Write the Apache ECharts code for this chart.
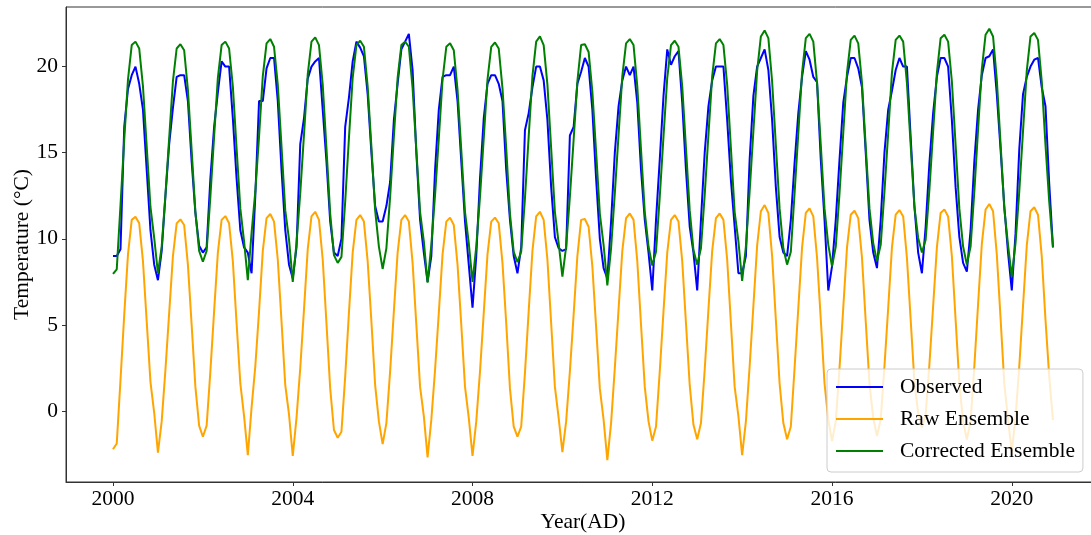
<!DOCTYPE html>
<html>
<head>
<meta charset="utf-8">
<script src="https://cdn.jsdelivr.net/npm/echarts@6/dist/echarts.min.js"></script>
<style>
html,body{margin:0;padding:0;background:#fff;}
#chart{width:1091px;height:535px;}
</style>
</head>
<body>
<div id="chart"></div>
<script>
// Monthly series, Jan 2000 .. Dec 2020 (one row per year)
const startYear = 2000;
const xTicks = [2000, 2004, 2008, 2012, 2016, 2020];
const yTicks = [0, 5, 10, 15, 20];

const observed = [
  9.0, 9.0, 9.4, 16.5, 18.7, 19.5, 20.0, 19.0, 17.5, 14.0, 10.5, 8.5,
  7.6, 9.3, 12.5, 15.5, 17.6, 19.4, 19.5, 19.5, 18.0, 14.5, 11.5, 9.6,
  9.2, 9.5, 13.5, 16.5, 18.5, 20.3, 20.0, 20.0, 17.0, 13.5, 10.5, 9.5,
  9.2, 8.0, 12.5, 18.0, 18.0, 19.9, 20.5, 20.5, 18.0, 14.0, 10.5, 8.5,
  7.7, 9.5, 15.5, 17.0, 19.3, 20.0, 20.3, 20.5, 17.5, 14.5, 11.0, 9.2,
  9.0, 10.0, 16.5, 18.2, 20.3, 21.45, 21.1, 20.6, 18.4, 15.0, 11.9, 11.0,
  11.0, 11.9, 13.3, 16.9, 19.0, 21.0, 21.45, 21.9, 19.8, 15.0, 11.1, 9.2,
  7.5, 9.0, 14.0, 17.5, 19.4, 19.5, 19.5, 20.0, 18.0, 14.5, 11.0, 8.5,
  6.0, 9.0, 13.5, 17.0, 19.0, 19.5, 19.5, 19.0, 18.0, 14.0, 11.1, 9.0,
  8.0, 9.5, 16.3, 17.3, 18.8, 20.0, 20.0, 19.2, 16.9, 13.0, 10.1, 9.45,
  9.3, 9.4, 16.0, 16.5, 19.0, 19.7, 20.5, 20.0, 17.5, 13.5, 10.0, 8.3,
  7.7, 11.0, 15.0, 17.7, 19.2, 20.0, 19.5, 20.0, 17.9, 14.0, 11.1, 9.2,
  7.0, 11.1, 14.6, 18.3, 21.0, 20.1, 20.6, 20.9, 17.9, 14.0, 10.7, 9.2,
  7.0, 11.1, 15.0, 17.7, 19.2, 20.0, 20.0, 20.0, 16.9, 13.4, 10.7, 8.0,
  8.0, 9.0, 14.6, 18.3, 20.0, 20.5, 21.0, 19.8, 16.9, 13.0, 10.1, 9.2,
  9.0, 11.1, 14.4, 17.3, 19.4, 20.9, 20.4, 19.4, 19.1, 14.6, 11.1, 7.0,
  8.4, 11.1, 14.6, 17.9, 19.4, 20.5, 20.5, 19.9, 18.8, 15.0, 11.1, 9.2,
  8.3, 11.1, 15.0, 17.5, 18.6, 19.8, 20.5, 20.0, 20.0, 15.9, 11.9, 9.2,
  8.0, 10.7, 14.4, 17.3, 19.4, 20.5, 20.5, 20.0, 16.9, 13.0, 10.1, 8.6,
  8.1, 10.5, 14.5, 17.5, 19.5, 20.5, 20.6, 21.0, 18.4, 15.2, 11.9, 9.2,
  7.0, 10.3, 15.2, 18.4, 19.4, 20.0, 20.4, 20.5, 18.8, 17.7, 13.2, 9.5
];

const rawEnsemble = [
  -2.22, -1.88, 1.8, 5.6, 9.1, 11.1, 11.28, 10.9, 8.7, 5.2, 1.7, -0.1,
  -2.42, -0.6, 2.4, 5.7, 9.0, 10.9, 11.13, 10.8, 8.5, 5.0, 1.4, -0.85,
  -1.49, -0.85, 2.3, 5.8, 9.2, 11.1, 11.32, 10.9, 8.7, 5.1, 1.6, -0.3,
  -2.56, 0.2, 2.6, 5.8, 9.3, 11.2, 11.44, 11.0, 8.8, 5.2, 1.5, -0.2,
  -2.61, -0.4, 2.5, 5.9, 9.4, 11.3, 11.57, 11.1, 8.8, 5.1, 1.3, -1.1,
  -1.55, -1.2, 2.0, 5.7, 9.2, 11.1, 11.38, 11.0, 8.7, 5.2, 1.5, -0.6,
  -1.92, -0.7, 2.3, 5.8, 9.2, 11.1, 11.38, 11.0, 8.6, 5.0, 1.4, -0.3,
  -2.69, -0.5, 2.4, 5.7, 9.1, 11.0, 11.23, 10.8, 8.5, 5.0, 1.4, -0.4,
  -2.61, -0.6, 2.3, 5.7, 9.1, 11.0, 11.23, 10.9, 8.6, 5.1, 1.3, -0.9,
  -1.49, -0.9, 2.2, 5.8, 9.3, 11.3, 11.57, 11.1, 8.8, 5.1, 1.4, -0.4,
  -2.38, -0.6, 2.3, 5.6, 9.0, 11.1, 11.15, 10.7, 8.4, 4.9, 1.3, -0.5,
  -2.85, -0.7, 2.5, 5.9, 9.3, 11.2, 11.47, 11.1, 8.7, 5.0, 1.4, -0.6,
  -1.72, -0.9, 2.3, 5.8, 9.2, 11.1, 11.38, 11.0, 8.7, 5.1, 1.5, -0.8,
  -1.64, -0.7, 2.4, 5.9, 9.3, 11.2, 11.47, 11.1, 8.8, 5.1, 1.4, -0.3,
  -2.56, -0.6, 2.6, 6.1, 9.6, 11.6, 11.96, 11.5, 9.0, 5.3, 1.6, -0.7,
  -1.64, -0.9, 2.5, 6.0, 9.5, 11.5, 11.77, 11.3, 8.9, 5.3, 1.6, -0.5,
  -1.75, -0.6, 2.5, 6.0, 9.5, 11.4, 11.63, 11.2, 8.9, 5.2, 1.6, -0.4,
  -1.45, -0.5, 2.6, 6.0, 9.5, 11.4, 11.67, 11.3, 8.9, 5.3, 1.7, -0.1,
  -0.95, -0.2, 2.7, 6.1, 9.5, 11.5, 11.71, 11.3, 9.0, 5.3, 1.6, -0.6,
  -1.65, -0.6, 2.6, 6.2, 9.7, 11.7, 12.02, 11.6, 9.1, 5.4, 1.6, -0.5,
  -2.35, -0.4, 2.6, 6.1, 9.6, 11.6, 11.83, 11.4, 9.0, 5.3, 2.0, -0.52
];

const correctedEnsemble = [
  7.96, 8.23, 11.95, 15.75, 19.25, 21.25, 21.45, 21.05, 18.85, 15.35, 11.85, 10.05,
  8.0, 9.55, 12.55, 15.85, 19.15, 21.05, 21.3, 20.95, 18.65, 15.15, 11.55, 9.3,
  8.67, 9.3, 12.45, 15.95, 19.35, 21.25, 21.45, 21.05, 18.85, 15.25, 11.75, 9.85,
  7.6, 10.35, 12.75, 15.95, 19.45, 21.35, 21.6, 21.15, 18.95, 15.35, 11.65, 9.95,
  7.5, 9.75, 12.65, 16.05, 19.55, 21.45, 21.7, 21.25, 18.95, 15.25, 11.45, 9.05,
  8.6, 8.95, 12.15, 15.85, 19.35, 21.25, 21.5, 21.15, 18.85, 15.35, 11.65, 9.55,
  8.25, 9.45, 12.45, 15.95, 19.35, 21.25, 21.45, 21.15, 18.75, 15.15, 11.55, 9.85,
  7.45, 9.65, 12.55, 15.85, 19.25, 21.15, 21.35, 20.95, 18.65, 15.15, 11.55, 9.75,
  7.5, 9.55, 12.45, 15.85, 19.25, 21.15, 21.4, 21.05, 18.75, 15.25, 11.45, 9.25,
  8.65, 9.25, 12.35, 15.95, 19.45, 21.45, 21.75, 21.25, 18.95, 15.25, 11.55, 9.75,
  7.8, 9.55, 12.45, 15.75, 19.15, 21.25, 21.3, 20.85, 18.55, 15.05, 11.45, 9.65,
  7.3, 9.45, 12.65, 16.05, 19.45, 21.35, 21.6, 21.25, 18.85, 15.15, 11.55, 9.55,
  8.45, 9.25, 12.45, 15.95, 19.35, 21.25, 21.5, 21.15, 18.85, 15.25, 11.65, 9.35,
  8.5, 9.45, 12.55, 16.05, 19.45, 21.35, 21.6, 21.25, 18.95, 15.25, 11.55, 9.85,
  7.55, 9.55, 12.75, 16.25, 19.75, 21.75, 22.1, 21.65, 19.15, 15.45, 11.75, 9.45,
  8.5, 9.25, 12.65, 16.15, 19.65, 21.65, 21.9, 21.45, 19.05, 15.45, 11.75, 9.65,
  8.4, 9.55, 12.65, 16.15, 19.65, 21.55, 21.8, 21.35, 19.05, 15.35, 11.75, 9.75,
  8.7, 9.65, 12.75, 16.15, 19.65, 21.55, 21.8, 21.45, 19.05, 15.45, 11.85, 10.05,
  9.2, 9.95, 12.85, 16.25, 19.65, 21.65, 21.85, 21.45, 19.15, 15.45, 11.75, 9.55,
  8.5, 9.55, 12.75, 16.35, 19.85, 21.85, 22.2, 21.75, 19.25, 15.55, 11.75, 9.65,
  7.8, 9.75, 12.75, 16.25, 19.75, 21.75, 21.95, 21.55, 19.15, 15.45, 12.15, 9.5
];

const seriesNames = ['Observed', 'Raw Ensemble', 'Corrected Ensemble'];
const seriesColors = ['#0000ff', '#ffa500', '#008000'];

function toPairs(arr) {
  return arr.map((v, i) => [startYear + i / 12, v]);
}

const FONT = '"Liberation Serif", "DejaVu Serif", serif';
const AX = '#333333';

const chart = echarts.init(document.getElementById('chart'), null, {renderer: 'canvas'});
chart.setOption({
  animation: false,
  backgroundColor: '#ffffff',
  grid: {
    left: 66, top: 7, width: 1034, height: 475,
    outerBoundsMode: 'none', containLabel: false,
    show: true, borderColor: AX, borderWidth: 1, backgroundColor: 'transparent'
  },
  xAxis: {
    type: 'value',
    min: 1998.954, max: 2021.963,
    name: 'Year(AD)', nameLocation: 'middle', nameGap: 29, nameMoveOverlap: false,
    nameTextStyle: {fontFamily: FONT, fontSize: 21.5, color: '#000'},
    axisLine: {show: true, onZero: false, lineStyle: {color: AX, width: 1}},
    axisTick: {show: true, inside: false, length: 4, customValues: xTicks, lineStyle: {color: AX, width: 1}},
    axisLabel: {show: true, margin: 6, customValues: xTicks, fontFamily: FONT, fontSize: 21.5, color: '#000',
      formatter: v => String(Math.round(v))},
    splitLine: {show: false}
  },
  yAxis: {
    type: 'value',
    min: -4.12, max: 23.46,
    name: 'Temperature (°C)', nameLocation: 'middle', nameGap: 33, nameRotate: 90, nameMoveOverlap: false,
    nameTextStyle: {fontFamily: FONT, fontSize: 21.5, color: '#000'},
    axisLine: {show: true, onZero: false, lineStyle: {color: AX, width: 1}},
    axisTick: {show: true, inside: false, length: 4, customValues: yTicks, lineStyle: {color: AX, width: 1}},
    axisLabel: {show: true, margin: 8, customValues: yTicks, fontFamily: FONT, fontSize: 21.5, color: '#000'},
    splitLine: {show: false}
  },
  legend: {
    orient: 'vertical',
    left: 827, top: 369,
    padding: [7, 8, 10, 8],
    itemGap: 10,
    itemWidth: 47, itemHeight: 14,
    itemStyle: {opacity: 0},
    lineStyle: {width: 2},
    backgroundColor: 'rgba(255,255,255,0.8)',
    borderColor: '#cccccc', borderWidth: 1, borderRadius: 4,
    textStyle: {fontFamily: FONT, fontSize: 21.5, color: '#000', padding: [0, 0, 0, 12]},
    data: seriesNames
  },
  series: seriesNames.map((name, idx) => ({
    name: name,
    type: 'line',
    data: toPairs([observed, rawEnsemble, correctedEnsemble][idx]),
    symbol: 'none',
    showSymbol: false,
    smooth: false,
    lineStyle: {color: seriesColors[idx], width: 2},
    itemStyle: {color: seriesColors[idx]},
    z: 2 + idx
  }))
});
</script>
</body>
</html>
